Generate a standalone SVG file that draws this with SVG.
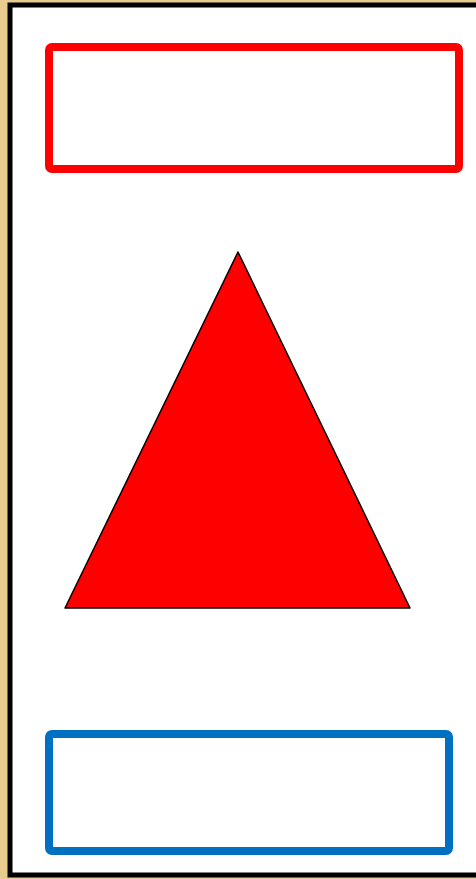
<svg xmlns="http://www.w3.org/2000/svg" width="476" height="879" viewBox="0 0 476 879">
<style>
.box{fill:none;stroke-width:8;stroke-linejoin:round}
</style>
<rect x="0" y="0" width="476" height="879" fill="#e8cb8e"/>
<rect x="10" y="5" width="470" height="870" fill="#ffffff" stroke="#000000" stroke-width="5"/>
<g id="top-box"><rect class="box" x="49" y="47" width="410" height="122" rx="3" stroke="#ff0000"/></g>
<g id="triangle"><polygon points="238,252 65,608 410,608" fill="#ff0000" stroke="#000000" stroke-width="1.5" stroke-linejoin="round"/></g>
<g id="bottom-box"><rect class="box" x="49" y="734" width="400" height="117" rx="3" stroke="#0070c0"/></g>
<g id="connectors"></g>
</svg>
